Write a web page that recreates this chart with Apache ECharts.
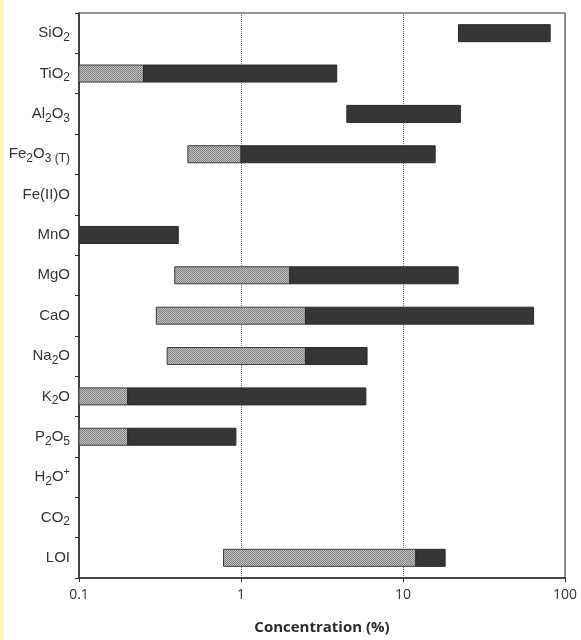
<!DOCTYPE html>
<html>
<head>
<meta charset="utf-8">
<script src="https://cdn.jsdelivr.net/npm/echarts@6/dist/echarts.min.js"></script>
<style>
  html, body { margin: 0; padding: 0; background: #ffffff; }
  #chart { width: 581px; height: 640px; }
</style>
</head>
<body>
<div id="chart"></div>
<script>
// Oxide names; "_x" marks a subscript, "^x" a superscript, "~x" a small suffix
const categories = ['SiO_2', 'TiO_2', 'Al_2O_3', 'Fe_2O_3~ (T)', 'Fe(II)O', 'MnO', 'MgO',
  'CaO', 'Na_2O', 'K_2O', 'P_2O_5', 'H_2O^+', 'CO_2', 'LOI'];

// Concentration ranges (%): low end, end of the light segment, high end (null = no data)
const rangeLow   = [22,   0.1,  4.5,  0.47, null, 0.1, 0.39, 0.30, 0.35, 0.1,  0.1,  null, null, 0.78];
const rangeSplit = [22,   0.25, 4.5,  1.0,  null, 0.1, 2.0,  2.5,  2.5,  0.2,  0.2,  null, null, 12];
const rangeHigh  = [81,   3.9,  22.6, 15.8, null, 0.41, 21.9, 64,  6.0,  5.9,  0.93, null, null, 18.2];

const tickValues = [0.1, 1, 10, 100];

// Stippled grey fill for the light segments
function makeStipple() {
  const c = document.createElement('canvas');
  c.width = 2; c.height = 2;
  const g = c.getContext('2d');
  g.fillStyle = '#bdbdbd'; g.fillRect(0, 0, 2, 2);
  g.fillStyle = '#858585';
  g.fillRect(0, 0, 1, 1);
  g.fillRect(1, 1, 1, 1);
  return c;
}
const stipple = { image: makeStipple(), repeat: 'repeat' };

const seriesData = [];
categories.forEach(function (name, i) {
  if (rangeLow[i] != null) seriesData.push([i, rangeLow[i], rangeSplit[i], rangeHigh[i]]);
});

function toRich(label) {
  return label
    .replace(/([^_^~]+)|_(\w)|\^(\S)|~(.+)$/g, function (m, plain, sub, sup, small) {
      if (plain) return '{n|' + plain + '}';
      if (sub) return '{s|' + sub + '}';
      if (sup) return '{p|' + sup + '}';
      return '{t|' + small + '}';
    });
}

const BAR_H = 17;

function renderItem(params, api) {
  const cat = api.value(0);
  const lo = api.coord([api.value(1), cat]);
  const mid = api.coord([api.value(2), cat]);
  const hi = api.coord([api.value(3), cat]);
  const y = lo[1] - BAR_H / 2;
  const children = [];
  if (mid[0] - lo[0] > 0.5) {
    children.push({
      type: 'rect',
      shape: { x: lo[0], y: y, width: mid[0] - lo[0], height: BAR_H },
      style: { fill: stipple, stroke: '#3a3a3a', lineWidth: 1 }
    });
  }
  children.push({
    type: 'rect',
    shape: { x: mid[0], y: y, width: hi[0] - mid[0], height: BAR_H },
    style: { fill: '#363636', stroke: '#2a2a2a', lineWidth: 1 }
  });
  return { type: 'group', children: children };
}

const chart = echarts.init(document.getElementById('chart'), null, { renderer: 'canvas' });

chart.setOption({
  backgroundColor: '#ffffff',
  animation: false,
  graphic: [{
    type: 'rect',
    shape: { x: 0, y: 0, width: 4, height: 640 },
    style: { fill: '#fbf8b8' },
    silent: true
  }],
  grid: {
    left: 79, right: 16, top: 13, bottom: 54,
    show: true, borderColor: '#333333', borderWidth: 1
  },
  xAxis: {
    type: 'log',
    logBase: 10,
    min: 0.1,
    max: 100,
    name: 'Concentration (%)',
    nameLocation: 'middle',
    nameGap: 42,
    nameTextStyle: {
      fontFamily: 'Open Sans', fontWeight: 'bold', fontSize: 15, color: '#2b2b2b'
    },
    axisLine: { show: true, lineStyle: { color: '#2b2b2b', width: 1.5 } },
    axisTick: { show: true, length: 4, lineStyle: { color: '#2b2b2b' } },
    minorTick: { show: false },
    axisLabel: {
      fontFamily: 'Open Sans', fontSize: 14, color: '#333333', margin: 10,
      formatter: function (v) {
        const t = tickValues.find(function (k) { return Math.abs(k - v) / k < 1e-6; });
        return t != null ? String(t) : '';
      }
    },
    splitLine: { show: true, lineStyle: { color: '#6a6a6a', type: 'dotted', width: 1 } }
  },
  yAxis: {
    type: 'category',
    data: categories,
    inverse: true,
    axisLine: { show: true, lineStyle: { color: '#2b2b2b', width: 1.5 } },
    axisTick: { show: true, length: 4, lineStyle: { color: '#2b2b2b' } },
    splitLine: { show: false },
    axisLabel: {
      margin: 9,
      color: '#333333',
      formatter: function (v) { return toRich(v); },
      rich: {
        n: { fontFamily: 'Liberation Sans', fontSize: 15, color: '#333333', lineHeight: 21, verticalAlign: 'middle' },
        s: { fontFamily: 'Liberation Sans', fontSize: 12, color: '#333333', lineHeight: 12, verticalAlign: 'bottom' },
        p: { fontFamily: 'Liberation Sans', fontSize: 11, color: '#333333', lineHeight: 11, verticalAlign: 'top' },
        t: { fontFamily: 'Liberation Sans', fontSize: 12, color: '#333333', lineHeight: 13, verticalAlign: 'bottom' }
      }
    }
  },
  series: [{
    type: 'custom',
    renderItem: renderItem,
    encode: { x: [1, 2, 3], y: 0 },
    data: seriesData,
    clip: true
  }]
});
</script>
</body>
</html>
